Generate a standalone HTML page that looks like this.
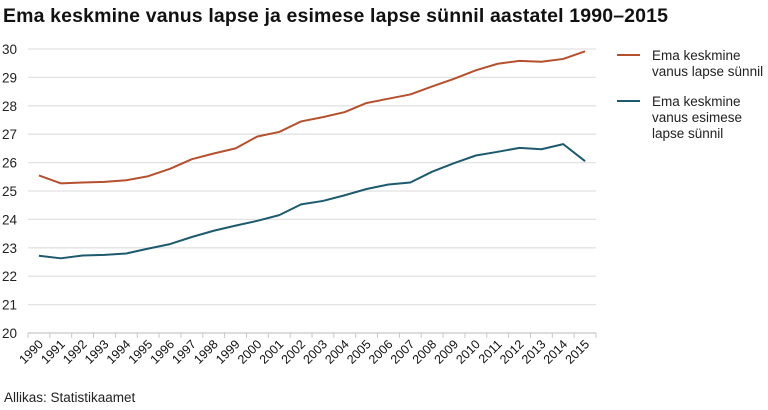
<!DOCTYPE html>
<html><head><meta charset="utf-8"><style>
body{margin:0;background:#fff;font-family:"Liberation Sans",sans-serif;}
#wrap{position:relative;width:768px;height:410px;overflow:hidden}
</style></head><body>
<div id="wrap">
<svg id="chart" width="768" height="410">
<text x="3" y="22" font-size="19.5" font-weight="bold" fill="#111" textLength="665">Ema keskmine vanus lapse ja esimese lapse sünnil aastatel 1990–2015</text>
<text x="4" y="402" font-size="13.5" fill="#222">Allikas: Statistikaamet</text>
<g>
<line x1="617" y1="55" x2="640" y2="55" stroke="#b5502f" stroke-width="2"/>
<text x="652" y="60" font-size="13.5" fill="#222"><tspan x="652">Ema keskmine</tspan><tspan x="652" dy="16">vanus lapse sünnil</tspan></text>
<line x1="617" y1="101" x2="640" y2="101" stroke="#1e5a6e" stroke-width="2"/>
<text x="652" y="106" font-size="13.5" fill="#222"><tspan x="652">Ema keskmine</tspan><tspan x="652" dy="16">vanus esimese</tspan><tspan x="652" dy="16">lapse sünnil</tspan></text>
</g>
</svg>
</div>
<script>
const years=["1990","1991","1992","1993","1994","1995","1996","1997","1998","1999","2000","2001","2002","2003","2004","2005","2006","2007","2008","2009","2010","2011","2012","2013","2014","2015"];
const motherAge=[25.55,25.27,25.3,25.32,25.38,25.52,25.78,26.12,26.32,26.5,26.92,27.08,27.45,27.6,27.78,28.1,28.25,28.4,28.68,28.95,29.25,29.48,29.58,29.55,29.65,29.92];
const firstChildAge=[22.72,22.63,22.73,22.75,22.8,22.97,23.13,23.38,23.6,23.78,23.95,24.15,24.53,24.65,24.85,25.07,25.23,25.3,25.68,25.98,26.25,26.38,26.52,26.47,26.65,26.05];
const yTicks=[20,21,22,23,24,25,26,27,28,29,30];
const NS="http://www.w3.org/2000/svg";
const svg=document.getElementById('chart');
const L=28,R=596,T=49,B=333,yMin=20,yMax=30;
const bw=(R-L)/years.length;
const xPos=i=>L+bw*(i+0.5);
const yPos=v=>B-(v-yMin)/(yMax-yMin)*(B-T);
function mk(tag,attrs){const e=document.createElementNS(NS,tag);for(const k in attrs)e.setAttribute(k,attrs[k]);svg.appendChild(e);return e;}
yTicks.forEach(t=>{
 const g=mk('line',{x1:L,x2:R,y1:yPos(t),y2:yPos(t),stroke:t===yMin?'#c8c8c8':'#e2e2e2','stroke-width':1.3});
 
 
 const tx=mk('text',{x:2,y:yPos(t)+5,'font-size':13.5,fill:'#222'});
 tx.textContent=t;
 
 
});
for(let i=0;i<=years.length;i++){
 const x=L+bw*i;
 const tk=mk('line',{x1:x,x2:x,y1:B,y2:B+5,stroke:'#c8c8c8'});
 
 
}
years.forEach((y,i)=>{
 const x=xPos(i)+5,yy=B+12;
 const tx=mk('text',{x:x,y:yy,'font-size':12.5,fill:'#111','text-anchor':'end',transform:`rotate(-45 ${x} ${yy})`});
 tx.textContent=y;
 
 
});
function series(vals,color,name){
 const p=mk('polyline',{points:vals.map((v,i)=>xPos(i)+','+yPos(v)).join(' '),fill:'none',stroke:color,'stroke-width':2,'stroke-linejoin':'round'});
 
 
}
series(motherAge,'#b5502f','line-mother-age');
series(firstChildAge,'#1e5a6e','line-first-child-age');
</script>
</body></html>
